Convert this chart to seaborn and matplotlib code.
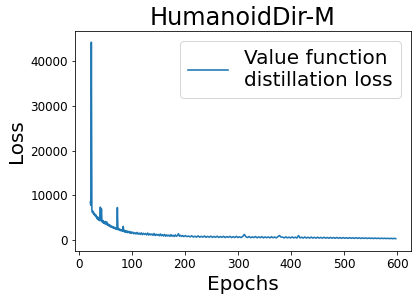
import numpy as np
import pandas as pd
import matplotlib
matplotlib.use("Agg")
import matplotlib.pyplot as plt
import seaborn as sns

# Loss curve (epoch, loss)
epocas_inicio = list(range(22, 101))
perda_inicio = [8500, 7800, 44200, 6800, 6200, 6500, 5900, 6100, 5600, 5800,
                5300, 5600, 5000, 4800, 5200, 4600, 4900, 4400, 4700, 7400,
                4300, 7000, 4200, 4000, 4400, 3800, 4100, 3700, 4200, 3600,
                3900, 4100, 3400, 3700, 3300, 3500, 3100, 3400, 3000, 3200,
                2900, 3100, 2800, 3000, 2700, 2900, 2600, 2800, 2500, 2700,
                2400, 7300, 2400, 2600, 2300, 2500, 2200, 2400, 2100, 2300,
                2200, 2000, 3100, 2100, 1900, 2200, 1800, 2000, 1850, 2100,
                1700, 1900, 1750, 2000, 1650, 1800, 1600, 1850, 1550]

epocas_meio = list(range(102, 200, 2))
perda_meio = [1800, 1450, 1700, 1400, 1750, 1350, 1600, 1300, 1650, 1250,
              1550, 1300, 1500, 1200, 1600, 1150, 1450, 1200, 1400, 1100,
              1500, 1050, 1350, 1100, 1300, 1000, 1400, 1000, 1250, 950,
              1300, 900, 1200, 950, 1150, 880, 1250, 900, 1100, 850,
              1200, 880, 1050, 1450, 900, 1100, 850, 1050, 820]

epocas_fim = list(range(201, 600, 3))
perda_fim = [1050, 800, 950, 750, 1000, 720, 900, 700, 980, 680,
             880, 700, 950, 650, 860, 680, 920, 640, 850, 660,
             900, 620, 830, 650, 880, 600, 820, 640, 870, 590,
             800, 620, 860, 600, 780, 600, 840, 1300, 780, 610,
             830, 560, 760, 600, 820, 550, 750, 580, 800, 540,
             740, 570, 740, 530, 780, 560, 720, 530, 770, 1050,
             710, 700, 520, 750, 530, 700, 510, 740, 520, 690,
             500, 1050, 510, 680, 490, 720, 500, 670, 480, 700,
             490, 650, 470, 680, 480, 640, 460, 660, 470, 620,
             450, 640, 460, 600, 440, 620, 450, 590, 430, 600,
             440, 570, 420, 580, 430, 560, 410, 560, 420, 540,
             400, 530, 410, 520, 390, 500, 400, 490, 380, 480,
             390, 470, 370, 460, 380, 450, 370, 440, 360, 430,
             350, 420, 360]

dados = pd.DataFrame({
    "Epoca": epocas_inicio + epocas_meio + epocas_fim,
    "Perda": perda_inicio + perda_meio + perda_fim,
})

fig = plt.figure(figsize=(420 / 72, 299 / 72), dpi=72)
ax = fig.add_axes([75 / 420, 1 - 251 / 299, 336 / 420, 220 / 299])

sns.lineplot(data=dados, x="Epoca", y="Perda", ax=ax, color="#1f77b4",
             linewidth=1.6, label="Value function\ndistillation loss")

ax.set_title("HumanoidDir-M", fontsize=24)
ax.set_xlabel("Epochs", fontsize=20)
ax.set_ylabel("Loss", fontsize=20)
ax.tick_params(labelsize=12)
ax.set_xticks([0, 100, 200, 300, 400, 500, 600])
ax.set_yticks([0, 10000, 20000, 30000, 40000])
ax.set_ylim(-2400, 46700)
ax.legend(loc="upper right", fontsize=20)

fig.savefig("out.png", dpi=72)
